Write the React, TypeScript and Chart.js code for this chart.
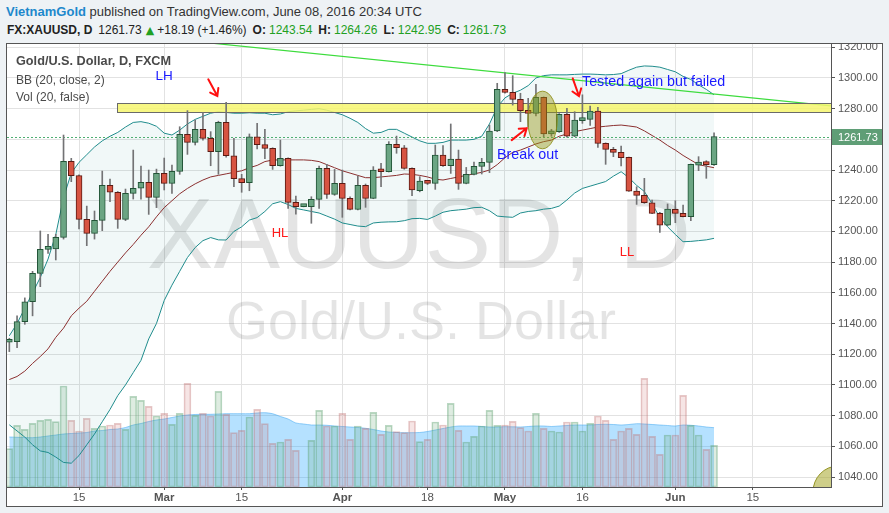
import React, { useEffect, useRef } from 'react';
import { Chart, registerables } from 'chart.js';

Chart.register(...registerables);

// ---------- data (daily bars, 2 Feb 2016 .. 8 Jun 2016, index 0..91) ----------
const opens = [
  1127.8, 1128.2, 1141.2, 1154.2, 1172.7, 1188.3, 1188.6, 1196.1, 1245.6, 1236.3,
  1207.9, 1198.7, 1207.2, 1230.0, 1225.5, 1207.9, 1224.8, 1228.1, 1232.0, 1222.2,
  1237.8, 1231.3, 1239.1, 1263.2, 1258.0, 1266.5, 1260.6, 1252.0, 1271.1, 1249.3,
  1234.4, 1231.7, 1261.7, 1256.5, 1254.1, 1242.8, 1247.6, 1218.9, 1216.2, 1216.1,
  1220.9, 1241.1, 1224.1, 1231.3, 1221.5, 1214.4, 1230.0, 1221.5, 1240.0, 1238.9,
  1256.7, 1254.5, 1241.1, 1226.5, 1232.4, 1231.3, 1249.8, 1242.8, 1247.2, 1231.3,
  1237.2, 1242.4, 1245.0, 1265.4, 1292.5, 1290.6, 1286.0, 1278.7, 1276.9, 1287.3,
  1263.5, 1265.0, 1276.3, 1262.1, 1272.2, 1273.0, 1278.4, 1257.4, 1253.5, 1251.5,
  1248.2, 1226.3, 1223.5, 1218.7, 1211.8, 1204.0, 1214.4, 1211.8, 1209.6, 1243.2,
  1244.3, 1243.54,
];
const highs = [
  1130.4, 1145.0, 1156.7, 1174.0, 1200.3, 1198.1, 1198.1, 1262.8, 1247.6, 1236.8,
  1216.5, 1213.3, 1239.3, 1234.1, 1226.0, 1227.6, 1253.0, 1242.6, 1240.0, 1240.6,
  1247.8, 1243.3, 1268.2, 1278.7, 1272.6, 1277.6, 1265.0, 1271.8, 1284.1, 1260.6,
  1237.2, 1263.5, 1270.4, 1266.5, 1254.5, 1259.5, 1248.0, 1223.1, 1216.6, 1222.6,
  1242.6, 1243.7, 1240.4, 1240.0, 1222.6, 1236.1, 1230.9, 1242.2, 1244.3, 1258.5,
  1262.1, 1256.0, 1241.5, 1235.7, 1233.2, 1256.3, 1255.9, 1270.0, 1253.0, 1241.7,
  1245.2, 1247.6, 1269.3, 1296.5, 1303.4, 1301.5, 1290.0, 1286.7, 1295.8, 1287.6,
  1266.5, 1276.8, 1280.2, 1278.0, 1289.0, 1281.7, 1280.8, 1257.7, 1254.8, 1255.6,
  1248.4, 1229.1, 1234.6, 1220.5, 1212.4, 1217.9, 1220.0, 1217.2, 1243.9, 1248.7,
  1246.1, 1264.26,
];
const lows = [
  1121.7, 1124.3, 1139.5, 1145.0, 1164.0, 1185.7, 1181.4, 1195.0, 1232.4, 1201.6,
  1190.7, 1195.0, 1200.5, 1219.4, 1202.0, 1207.0, 1221.1, 1221.0, 1211.1, 1215.5,
  1227.0, 1224.8, 1237.2, 1250.2, 1256.3, 1259.5, 1242.8, 1237.2, 1248.3, 1229.1,
  1225.5, 1226.5, 1253.7, 1247.4, 1240.4, 1242.5, 1215.0, 1211.3, 1216.0, 1205.3,
  1215.0, 1221.5, 1223.5, 1209.2, 1214.0, 1214.0, 1215.7, 1221.3, 1229.1, 1238.7,
  1250.9, 1240.5, 1223.3, 1225.8, 1230.5, 1227.4, 1242.4, 1237.8, 1227.4, 1231.0,
  1236.8, 1237.4, 1238.3, 1265.0, 1290.0, 1282.3, 1271.5, 1268.2, 1275.2, 1261.7,
  1262.0, 1264.5, 1261.4, 1261.8, 1270.4, 1269.1, 1254.8, 1243.7, 1248.7, 1242.6,
  1226.0, 1217.6, 1218.3, 1211.5, 1199.4, 1203.8, 1205.7, 1209.4, 1207.0, 1239.6,
  1234.6, 1242.95,
];
const closes = [
  1128.3, 1141.2, 1154.2, 1172.7, 1188.3, 1188.6, 1196.1, 1245.6, 1236.3, 1207.9,
  1198.7, 1207.2, 1230.0, 1225.5, 1207.9, 1224.8, 1228.1, 1232.0, 1222.2, 1237.8,
  1231.3, 1239.1, 1263.2, 1258.0, 1266.5, 1260.6, 1252.0, 1271.1, 1249.3, 1234.4,
  1231.7, 1261.7, 1256.5, 1254.1, 1242.8, 1247.6, 1218.9, 1216.1, 1216.3, 1220.9,
  1241.1, 1224.1, 1231.3, 1221.5, 1214.4, 1230.0, 1221.5, 1240.0, 1238.9, 1256.7,
  1254.5, 1241.1, 1227.0, 1232.8, 1231.3, 1249.8, 1242.8, 1247.2, 1231.3, 1237.2,
  1242.4, 1245.0, 1265.4, 1292.5, 1290.6, 1286.0, 1278.7, 1276.9, 1287.3, 1263.5,
  1265.0, 1276.3, 1262.1, 1272.6, 1273.0, 1278.4, 1257.4, 1253.5, 1251.5, 1248.0,
  1226.3, 1223.5, 1218.7, 1211.8, 1204.0, 1214.6, 1211.8, 1209.6, 1243.7, 1244.3,
  1243.54, 1261.73,
];
const volumes = [
  38.3, 61.7, 57.7, 63.7, 66.7, 67.7, 65.3, 101.0, 66.7, 56.0,
  68.7, 58.7, 61.0, 62.0, 63.7, 57.7, 90.7, 86.7, 80.7, 71.0,
  73.7, 62.7, 73.7, 103.7, 71.7, 73.7, 71.0, 95.7, 72.7, 54.3,
  56.7, 70.0, 77.7, 63.3, 43.7, 45.0, 47.7, 36.7, 0, 46.7,
  76.7, 61.0, 61.0, 73.7, 47.7, 61.0, 58.7, 74.7, 52.7, 61.7,
  55.3, 54.3, 66.0, 45.3, 47.7, 65.0, 62.0, 83.7, 56.7, 45.0,
  50.7, 61.0, 76.7, 61.7, 62.0, 65.7, 59.3, 56.0, 73.7, 58.7,
  56.0, 55.0, 65.0, 65.0, 56.0, 63.7, 71.0, 66.7, 47.7, 56.0,
  58.7, 52.7, 108.7, 50.7, 32.7, 52.0, 52.0, 91.7, 61.7, 52.0,
  37.7, 41.7,
];
const volumeMA = [
  50, 49.7, 49.5, 49.3, 50, 51, 52, 53, 53.5, 54,
  54.5, 56, 56.5, 57.5, 58, 59.5, 62, 63.5, 65.5, 67,
  68, 69.5, 71, 72, 72.5, 72.7, 72.7, 73, 73.3, 73.3,
  73.3, 73.3, 74, 74.3, 73.3, 70.5, 68, 64, 63, 62,
  62, 61.7, 61, 60.5, 60, 59.5, 58.7, 57.5, 56, 55,
  54.5, 54.3, 54.3, 54.5, 55.5, 57, 58.5, 60, 61, 61,
  61, 60.5, 60, 60, 60.3, 60.2, 60, 60.5, 61, 61,
  60.5, 61, 61.5, 62, 62, 62, 62.5, 62.7, 62.5, 62,
  62.5, 63.3, 63, 62.5, 62, 61.5, 61, 62, 61.7, 61,
  60, 59.3,
];
const bbUpper = [
  1132, 1140, 1150, 1160, 1170, 1182, 1198, 1222, 1238, 1245,
  1250, 1255, 1259, 1262, 1264.5, 1268, 1271, 1271.5, 1270.5, 1268.5,
  1264, 1262.8, 1266, 1270, 1273, 1275, 1277, 1278, 1277.5, 1277,
  1277, 1277.3, 1277, 1277, 1276, 1276.5, 1278, 1278.5, 1279, 1279.5,
  1280, 1279, 1277.5, 1276, 1273.7, 1271, 1267, 1264, 1264.5, 1266.5,
  1266.5, 1264, 1261.5, 1259, 1257.4, 1257.4, 1258, 1259.5, 1259.5, 1259.5,
  1260, 1262, 1270, 1281, 1287, 1290, 1292, 1295, 1300, 1301.5,
  1302, 1302, 1302, 1302.3, 1302.5, 1302.5, 1302.3, 1302, 1302.2, 1302.8,
  1305, 1307, 1307.8, 1307.6, 1307, 1305.5, 1304, 1301, 1299, 1295.5,
  1292.5, 1289,
];
const bbBasis = [
  1103.5, 1105.5, 1109, 1114, 1118.5, 1123.5, 1131, 1137, 1145, 1150,
  1154.5, 1161, 1167.5, 1174, 1180, 1186, 1191.5, 1197.5, 1203, 1209.5,
  1215.5, 1220, 1224.5, 1228, 1231, 1233.5, 1235.5, 1236.5, 1237.5, 1238.5,
  1239.5, 1241.5, 1243, 1245.5, 1246.5, 1246.6, 1246.6, 1246.6, 1246.6, 1246.3,
  1245.5, 1243.5, 1241.5, 1239.5, 1238, 1236.5, 1235, 1235, 1235.5, 1236,
  1236.5, 1237.4, 1237.2, 1236.5, 1235.5, 1234, 1233.5, 1234.5, 1235.5, 1236.5,
  1237.5, 1238.5, 1240, 1243.5, 1248, 1251.5, 1253, 1255, 1257, 1258.5,
  1259.5, 1262, 1263.5, 1265, 1266, 1267, 1268, 1268.5, 1269, 1269.3,
  1268.7, 1268, 1265.5, 1262.5, 1259.5, 1256, 1253, 1249.5, 1246.5, 1243.5,
  1242.5, 1241.5,
];
const bbLower = [
  1074, 1070, 1066, 1061, 1057, 1056, 1053, 1049.5, 1049, 1054,
  1061, 1068, 1076, 1084, 1093, 1100, 1108, 1116, 1130, 1140,
  1155, 1165, 1174, 1183, 1189.5, 1194, 1196, 1194.5, 1194.4, 1200,
  1203, 1207.4, 1209, 1213, 1218, 1219.4, 1217.5, 1215, 1214, 1213,
  1212, 1210, 1208, 1205.5, 1204.5, 1203.5, 1203.1, 1205.5, 1206, 1206.2,
  1206.3, 1207, 1208.3, 1208.5, 1207.8, 1210, 1212.5, 1213.5, 1214, 1214.5,
  1215.5, 1215.7, 1213.5, 1210, 1209.5, 1209.2, 1212, 1213, 1213.5, 1214.5,
  1215, 1216.5, 1220.5, 1225, 1228, 1229.5, 1231, 1232.5, 1236, 1238.9,
  1235, 1230, 1226, 1218, 1209, 1203, 1198, 1193.3, 1193.5, 1194,
  1194.5, 1195.5,
];

const tickIndices = [9, 20, 30, 43, 54, 64, 74, 86, 96];
const tickLabels = ['15', 'Mar', '15', 'Apr', '18', 'May', '16', 'Jun', '15'];
const monthLabels = ['Mar', 'Apr', 'May', 'Jun'];
const priceTicks = [1040, 1060, 1080, 1100, 1120, 1140, 1160, 1180, 1200, 1220, 1240, 1260, 1280, 1300, 1320];
const lastPrice = 1261.73;

const trendX = [22.5, 106.4];
const trendY = [1324.5, 1281.7];

// ---------- layout / style constants ----------
const X_MIN = -0.3;
const X_MAX = 106.1;
const Y_MIN = 1033.5;
const Y_MAX = 1322.1;
const VOL_MAX = 443;
const FONT = '"Liberation Sans", Arial, sans-serif';
const UP_FILL = '#6ba583';
const DOWN_FILL = '#d75442';
const UP_BORDER = '#225437';
const DOWN_BORDER = '#5b1a13';
const WICK = '#737375';
const GREEN_TXT = '#22a022';
const WICK_INDEX = 6;

// annotation anchors (data coordinates: bar index, price)
const band = { from: 13.87, low: 1278.0, high: 1283.6 };
const ellipse = { i: 68.85, p: 1272.6, rx: 14.7, ry: 28.8 };
const cornerShape = { i: 107.0, p: 1030.2, rx: 25, ry: 26 };
const arrows = [
  { i1: 25.69, p1: 1299.1, i2: 26.86, p2: 1288.2 },
  { i1: 64.87, p1: 1259.5, i2: 66.81, p2: 1267.2 },
  { i1: 72.75, p1: 1299.7, i2: 73.56, p2: 1288.2 },
];
const notes = [
  { text: 'LH', i: 20.0, p: 1301.2, color: '#1a1aff', align: 'center', size: 13.5 },
  { text: 'HL', i: 34.95, p: 1198.6, color: '#ff1a1a', align: 'center', size: 13 },
  { text: 'LL', i: 79.76, p: 1186.6, color: '#ff1a1a', align: 'center', size: 13 },
  { text: 'Break out', i: 62.97, p: 1249.8, color: '#1a1aff', align: 'left', size: 14.3 },
  { text: 'Tested again but failed', i: 73.95, p: 1297.3, color: '#1a1aff', align: 'left', size: 14.3 },
];

function drawArrow(ctx: CanvasRenderingContext2D, x1: number, y1: number, x2: number, y2: number) {
  const ang = Math.atan2(y2 - y1, x2 - x1);
  const L = 8;
  const s = 0.62;
  ctx.beginPath();
  ctx.moveTo(x1, y1);
  ctx.lineTo(x2, y2);
  ctx.moveTo(x2 - L * Math.cos(ang - s), y2 - L * Math.sin(ang - s));
  ctx.lineTo(x2, y2);
  ctx.lineTo(x2 - L * Math.cos(ang + s), y2 - L * Math.sin(ang + s));
  ctx.stroke();
}

export default function App() {
  const ref = useRef<HTMLCanvasElement>(null);

  useEffect(() => {
    const canvas = ref.current;
    if (!canvas) return;
    const isUp = (i: number) => closes[i] >= opens[i];

    const overlay = {
      id: 'overlay',
      beforeDatasetsDraw(chart: any) {
        const { ctx, chartArea: a } = chart;
        ctx.save();
        ctx.beginPath();
        ctx.rect(a.left, a.top, a.right - a.left, a.bottom - a.top);
        ctx.clip();
        ctx.fillStyle = 'rgba(0,0,0,0.105)';
        ctx.textAlign = 'center';
        ctx.textBaseline = 'alphabetic';
        ctx.font = `100px ${FONT}`;
        ctx.fillText('XAUUSD, D', (a.left + a.right) / 2, a.top + 224);
        ctx.font = `54px ${FONT}`;
        ctx.fillText('Gold/U.S. Dollar', (a.left + a.right) / 2 + 2, a.top + 295);
        ctx.restore();
      },
      beforeDatasetDraw(chart: any, args: any) {
        if (args.index !== WICK_INDEX) return;
        const { ctx, chartArea: a, scales } = chart;
        const x = scales.x, y = scales.y;
        ctx.save();
        ctx.beginPath();
        ctx.rect(a.left, a.top, a.right - a.left, a.bottom - a.top);
        ctx.clip();
        // resistance band
        const bx = Math.round(x.getPixelForValue(band.from)) + 0.5;
        const by1 = Math.round(y.getPixelForValue(band.high)) + 0.5;
        const by2 = Math.round(y.getPixelForValue(band.low)) + 0.5;
        ctx.fillStyle = 'rgba(246,246,110,0.85)';
        ctx.fillRect(bx, by1, a.right - bx + 2, by2 - by1);
        ctx.strokeStyle = '#6a6a6a';
        ctx.lineWidth = 1;
        ctx.strokeRect(bx, by1, a.right - bx + 2, by2 - by1);
        // last price dotted line
        const ly = Math.round(y.getPixelForValue(lastPrice)) + 0.5;
        ctx.strokeStyle = '#4fae72';
        ctx.setLineDash([2, 2]);
        ctx.beginPath();
        ctx.moveTo(a.left, ly);
        ctx.lineTo(a.right, ly);
        ctx.stroke();
        ctx.restore();
      },
      afterDatasetsDraw(chart: any) {
        const { ctx, chartArea: a, scales } = chart;
        const x = scales.x, y = scales.y;
        ctx.save();
        ctx.beginPath();
        ctx.rect(a.left, a.top, a.right - a.left, a.bottom - a.top);
        ctx.clip();
        // ellipse highlight
        ctx.beginPath();
        ctx.ellipse(x.getPixelForValue(ellipse.i), y.getPixelForValue(ellipse.p), ellipse.rx, ellipse.ry, 0, 0, Math.PI * 2);
        ctx.fillStyle = 'rgba(150,150,25,0.45)';
        ctx.fill();
        ctx.strokeStyle = 'rgba(140,140,20,0.85)';
        ctx.lineWidth = 1;
        ctx.stroke();
        // corner shape
        ctx.beginPath();
        ctx.ellipse(x.getPixelForValue(cornerShape.i), y.getPixelForValue(cornerShape.p), cornerShape.rx, cornerShape.ry, 0, 0, Math.PI * 2);
        ctx.fillStyle = 'rgba(165,165,40,0.55)';
        ctx.fill();
        ctx.strokeStyle = 'rgba(140,140,20,0.9)';
        ctx.stroke();
        // arrows
        ctx.strokeStyle = '#ff1010';
        ctx.lineWidth = 2;
        ctx.lineCap = 'round';
        arrows.forEach((r) => {
          drawArrow(ctx, x.getPixelForValue(r.i1), y.getPixelForValue(r.p1), x.getPixelForValue(r.i2), y.getPixelForValue(r.p2));
        });
        // notes
        ctx.textBaseline = 'middle';
        notes.forEach((n) => {
          ctx.font = `${n.size}px ${FONT}`;
          ctx.fillStyle = n.color;
          ctx.textAlign = n.align as CanvasTextAlign;
          ctx.fillText(n.text, x.getPixelForValue(n.i), y.getPixelForValue(n.p));
        });
        ctx.restore();
      },
      afterDraw(chart: any) {
        const { ctx, chartArea: a, scales } = chart;
        const ly = Math.round(scales.y.getPixelForValue(lastPrice));
        ctx.save();
        ctx.fillStyle = '#5f9e76';
        ctx.fillRect(a.right + 1, ly - 8, chart.width - a.right - 1, 16);
        ctx.fillStyle = '#ffffff';
        ctx.font = `11px ${FONT}`;
        ctx.textAlign = 'left';
        ctx.textBaseline = 'middle';
        ctx.fillText(lastPrice.toFixed(2), a.right + 7, ly + 0.5);
        ctx.restore();
      },
    };

    const idx = closes.map((_, i) => i);
    const chart = new Chart(canvas, {
      type: 'line',
      data: {
        datasets: [
          {
            type: 'line',
            data: idx.map((i) => ({ x: i, y: bbUpper[i] })),
            borderColor: '#1f8c8c',
            borderWidth: 1,
            pointRadius: 0,
            tension: 0,
            fill: '+1',
            backgroundColor: 'rgba(25,135,135,0.06)',
            order: 50,
          },
          {
            type: 'line',
            data: idx.map((i) => ({ x: i, y: bbLower[i] })),
            borderColor: '#1f8c8c',
            borderWidth: 1,
            pointRadius: 0,
            tension: 0,
            fill: false,
            order: 49,
          },
          {
            type: 'line',
            data: idx.map((i) => ({ x: i, y: bbBasis[i] })),
            borderColor: '#8b2f2f',
            borderWidth: 1,
            pointRadius: 0,
            tension: 0,
            fill: false,
            order: 48,
          },
          {
            type: 'line',
            yAxisID: 'y2',
            data: idx.map((i) => ({ x: i, y: volumeMA[i] })),
            borderColor: 'rgba(70,170,240,0.55)',
            borderWidth: 1,
            pointRadius: 0,
            tension: 0.3,
            fill: 'origin',
            backgroundColor: 'rgba(10,155,255,0.3)',
            order: 70,
          },
          {
            type: 'bar',
            yAxisID: 'y2',
            data: idx.map((i) => ({ x: i, y: volumes[i] })),
            backgroundColor: idx.map((i) => (isUp(i) ? 'rgba(107,170,120,0.22)' : 'rgba(205,110,110,0.18)')),
            borderColor: idx.map((i) => (isUp(i) ? 'rgba(90,160,110,0.42)' : 'rgba(190,110,110,0.38)')),
            borderWidth: 1,
            borderSkipped: false,
            barThickness: 7,
            grouped: false,
            order: 65,
          },
          {
            type: 'line',
            data: trendX.map((v, k) => ({ x: v, y: trendY[k] })),
            borderColor: '#3ddc3d',
            borderWidth: 1.2,
            pointRadius: 0,
            fill: false,
            order: 40,
          },
          {
            type: 'bar',
            data: idx.map((i) => ({ x: i, y: [lows[i], highs[i]] })),
            backgroundColor: WICK,
            borderWidth: 0,
            barThickness: 1,
            grouped: false,
            order: 20,
          },
          {
            type: 'bar',
            data: idx.map((i) => ({ x: i, y: [opens[i], closes[i]] })),
            backgroundColor: idx.map((i) => (isUp(i) ? UP_FILL : DOWN_FILL)),
            borderColor: idx.map((i) => (isUp(i) ? UP_BORDER : DOWN_BORDER)),
            borderWidth: 1,
            borderSkipped: false,
            barThickness: 6,
            minBarLength: 3,
            grouped: false,
            order: 10,
          },
        ] as any,
      },
      options: {
        responsive: false,
        animation: false,
        devicePixelRatio: 1,
        events: [],
        layout: { padding: 0 },
        plugins: {
          legend: { display: false },
          tooltip: { enabled: false },
        },
        scales: {
          x: {
            type: 'linear',
            min: X_MIN,
            max: X_MAX,
            offset: false,
            afterBuildTicks: (s: any) => {
              s.ticks = tickIndices.map((v) => ({ value: v }));
            },
            afterFit: (s: any) => {
              s.height = 19;
              s.paddingLeft = 0;
              s.paddingRight = 0;
            },
            ticks: {
              autoSkip: false,
              maxRotation: 0,
              padding: 1,
              color: '#555555',
              font: (c: any) => ({
                family: FONT,
                size: 11.5,
                weight: monthLabels.includes(tickLabels[c.index]) ? 'bold' : 'normal',
              }),
              callback: (_v: any, i: number) => tickLabels[i],
            },
            grid: { offset: false, color: '#e2e2e2', tickLength: 3, tickColor: '#555555', drawTicks: true },
            border: { display: true, color: '#555555' },
          },
          y: {
            type: 'linear',
            position: 'right',
            min: Y_MIN,
            max: Y_MAX,
            afterBuildTicks: (s: any) => {
              s.ticks = priceTicks.map((v) => ({ value: v }));
            },
            afterFit: (s: any) => {
              s.width = 51;
              s.paddingTop = 0;
              s.paddingBottom = 0;
            },
            ticks: {
              autoSkip: false,
              padding: 3,
              color: '#555555',
              font: { family: FONT, size: 11 },
              callback: (v: any) => (Number(v) === 1260 ? '' : Number(v).toFixed(2)),
            },
            grid: { color: '#e2e2e2', tickLength: 4, tickColor: '#555555', drawTicks: true },
            border: { display: true, color: '#555555' },
          },
          y2: {
            type: 'linear',
            display: false,
            min: 0,
            max: VOL_MAX,
          },
        },
      } as any,
      plugins: [overlay as any],
    });
    return () => chart.destroy();
  }, []);

  const g = { color: GREEN_TXT, marginLeft: 3 };
  const b = { fontWeight: 'bold' as const, marginLeft: 6 };

  return (
    <div
      style={{
        position: 'fixed',
        left: 0,
        top: 0,
        width: 889,
        height: 513,
        background: '#eef2f5',
        overflow: 'hidden',
        fontFamily: FONT,
      }}
    >
      <div style={{ position: 'absolute', left: 6, top: 3, fontSize: 13, lineHeight: '18px', color: '#333', whiteSpace: 'nowrap' }}>
        <span style={{ color: '#1d88cc', fontWeight: 'bold' }}>VietnamGold</span> published on TradingView.com, June 08, 2016 20:34 UTC
      </div>
      <div style={{ position: 'absolute', left: 7, top: 22, fontSize: 12, lineHeight: '16px', color: '#222', whiteSpace: 'nowrap' }}>
        <span style={{ fontWeight: 'bold' }}>FX:XAUUSD, D</span>
        <span style={{ marginLeft: 6 }}>1261.73</span>
        <span style={{ marginLeft: 4, color: GREEN_TXT, fontFamily: '"DejaVu Sans"', fontSize: 11 }}>▲</span>
        <span style={{ marginLeft: 3 }}>+18.19 (+1.46%)</span>
        <span style={b}>O:</span>
        <span style={g}>1243.54</span>
        <span style={b}>H:</span>
        <span style={g}>1264.26</span>
        <span style={b}>L:</span>
        <span style={g}>1242.95</span>
        <span style={b}>C:</span>
        <span style={g}>1261.73</span>
      </div>
      <div
        style={{
          position: 'absolute',
          left: 6,
          top: 43,
          width: 877,
          height: 464,
          border: '1px solid #555',
          boxSizing: 'border-box',
          background: '#ffffff',
        }}
      >
        <canvas ref={ref} width={875} height={462} style={{ position: 'absolute', left: 0, top: 0, width: 875, height: 462 }} />
        <div style={{ position: 'absolute', left: 9, top: 9, fontSize: 12.7, lineHeight: '16px', color: '#4a4a4a', fontWeight: 'bold', whiteSpace: 'nowrap' }}>
          Gold/U.S. Dollar, D, FXCM
        </div>
        <div style={{ position: 'absolute', left: 9, top: 27.5, fontSize: 12, lineHeight: '16px', color: '#4a4a4a', whiteSpace: 'nowrap' }}>
          BB (20, close, 2)
        </div>
        <div style={{ position: 'absolute', left: 9, top: 44.5, fontSize: 12, lineHeight: '16px', color: '#4a4a4a', whiteSpace: 'nowrap' }}>
          Vol (20, false)
        </div>
      </div>
    </div>
  );
}
